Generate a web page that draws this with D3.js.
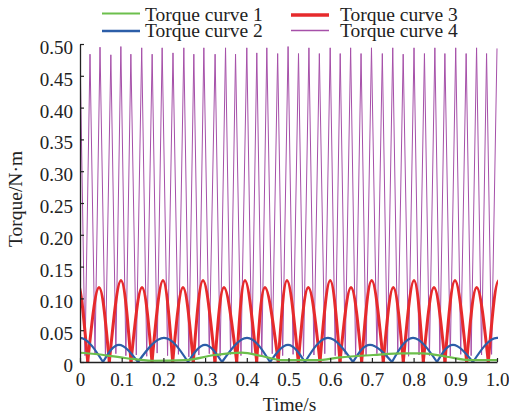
<!DOCTYPE html>
<html>
<head>
<meta charset="utf-8">
<script src="https://cdn.jsdelivr.net/npm/d3@7"></script>
<style>
  html, body { margin: 0; padding: 0; background: #fff; }
  svg { display: block; }
  svg text { font-family: "Liberation Serif", "Times New Roman", serif !important; }
</style>
</head>
<body>
<svg id="chart" width="509" height="418"></svg>
<script>
// ---- data ----
const timeTicks = [0, 0.1, 0.2, 0.3, 0.4, 0.5, 0.6, 0.7, 0.8, 0.9, 1.0];
const timeTickLabels = ["0", "0.1", "0.2", "0.3", "0.4", "0.5", "0.6", "0.7", "0.8", "0.9", "1.0"];
const torqueTicks = [0, 0.05, 0.10, 0.15, 0.20, 0.25, 0.30, 0.35, 0.40, 0.45, 0.50];
const torqueTickLabels = ["0", "0.05", "0.10", "0.15", "0.20", "0.25", "0.30", "0.35", "0.40", "0.45", "0.50"];
const seriesNames = ["Torque curve 1", "Torque curve 2", "Torque curve 3", "Torque curve 4"];
const seriesColors = ["#6cbf4c", "#2c5ea8", "#e62a2c", "#a650a9"];

// Torque curve 1 (slow ripple)
const curve1Time   = [0, 0.036, 0.108, 0.173, 0.252, 0.324, 0.388, 0.436, 0.484, 0.568, 0.624, 0.703, 0.775, 0.823, 0.880, 0.935, 1.0];
const curve1Torque = [0.0146, 0.0126, 0.0063, 0.002, 0.003, 0.011, 0.0146, 0.0094, 0.003, 0.003, 0.0074, 0.011, 0.0137, 0.0137, 0.0083, 0.003, 0.003];

// Torque curve 2 (zeros and crests of each lobe)
const curve2Time   = [-0.055, 0, 0.0552, 0.0935, 0.1391, 0.2014, 0.2590, 0.2998, 0.3405, 0.4005, 0.4556, 0.4988, 0.5396, 0.5947, 0.6547, 0.6954, 0.7482, 0.7986, 0.8561, 0.8945, 0.9424, 1.0, 1.057];
const curve2Torque = [0, 0.038, 0, 0.027, 0, 0.038, 0, 0.027, 0, 0.038, 0, 0.027, 0, 0.038, 0, 0.027, 0, 0.038, 0, 0.027, 0, 0.038, 0];

// Torque curve 3 (zeros and crests of each lobe)
const curve3Time   = [-0.0325, -0.007, 0.0185, 0.0456, 0.0703, 0.0983, 0.1223, 0.1487, 0.1727, 0.1990, 0.2223, 0.2470, 0.2717, 0.2950, 0.3237, 0.3453, 0.3758, 0.3957, 0.4237, 0.4436, 0.4755, 0.4964, 0.5235, 0.5475, 0.5755, 0.6000, 0.6235, 0.6499, 0.6755, 0.6995, 0.7273, 0.7513, 0.7753, 0.8010, 0.8233, 0.8489, 0.8753, 0.8993, 0.9273, 0.9513, 0.9791, 1.004, 1.029];
const curve3Torque = [0, 0.128, 0, 0.117, 0, 0.128, 0, 0.117, 0, 0.128, 0, 0.117, 0, 0.128, 0, 0.117, 0, 0.128, 0, 0.117, 0, 0.128, 0, 0.117, 0, 0.128, 0, 0.117, 0, 0.128, 0, 0.117, 0, 0.128, 0, 0.117, 0, 0.128, 0, 0.117, 0, 0.128, 0];

// Torque curve 4 (peaks and troughs)
const curve4Time = [0.000, 0.012, 0.024, 0.036, 0.048, 0.061, 0.074, 0.086, 0.098, 0.110,
                    0.122, 0.135, 0.148, 0.160, 0.173, 0.185, 0.197, 0.210, 0.223, 0.236,
                    0.249, 0.261, 0.273, 0.285, 0.297, 0.310, 0.324, 0.336, 0.349, 0.361,
                    0.373, 0.386, 0.400, 0.412, 0.424, 0.436, 0.448, 0.461, 0.474, 0.486,
                    0.499, 0.511, 0.524, 0.536, 0.549, 0.561, 0.574, 0.587, 0.600, 0.612,
                    0.624, 0.636, 0.649, 0.661, 0.674, 0.686, 0.699, 0.712, 0.725, 0.737,
                    0.750, 0.762, 0.775, 0.788, 0.801, 0.813, 0.826, 0.838, 0.851, 0.863,
                    0.875, 0.888, 0.901, 0.913, 0.926, 0.938, 0.951, 0.963, 0.975, 0.987, 1.000];
const curve4Torque = [0.490, 0.010, 0.484, 0.012, 0.495, 0.008, 0.483, 0.013, 0.496, 0.010,
                      0.484, 0.011, 0.494, 0.009, 0.484, 0.014, 0.494, 0.010, 0.486, 0.012,
                      0.494, 0.008, 0.484, 0.011, 0.494, 0.013, 0.484, 0.009, 0.494, 0.012,
                      0.484, 0.010, 0.494, 0.011, 0.486, 0.008, 0.494, 0.013, 0.485, 0.010,
                      0.496, 0.012, 0.485, 0.009, 0.494, 0.011, 0.485, 0.013, 0.494, 0.010,
                      0.485, 0.012, 0.494, 0.008, 0.485, 0.011, 0.494, 0.013, 0.485, 0.010,
                      0.494, 0.012, 0.484, 0.009, 0.494, 0.011, 0.485, 0.010, 0.494, 0.013,
                      0.485, 0.009, 0.494, 0.012, 0.485, 0.010, 0.494, 0.011, 0.485, 0.012, 0.493];

// ---- layout ----
const svg = d3.select("#chart");
const x = d3.scaleLinear().domain([0, 1]).range([80, 497]);
const y = d3.scaleLinear().domain([0, 0.5]).range([362, 44]);
const serif = "'Liberation Serif', 'Times New Roman', serif";

svg.append("rect").attr("width", 509).attr("height", 418).attr("fill", "#fff");

svg.append("defs").append("clipPath").attr("id", "plot-clip")
  .append("rect").attr("x", x(0)).attr("y", 0)
  .attr("width", x(1) - x(0) + 1).attr("height", y(0) + 1);

const plot = svg.append("g").attr("clip-path", "url(#plot-clip)");

const zip = (ts, vs) => ts.map((t, i) => [t, vs[i]]);
const line = d3.line().x(d => x(d[0])).y(d => y(d[1]));

// split a series at its zero points into separate smooth lobes
function lobes(ts, vs) {
  const pts = zip(ts, vs);
  const out = [];
  let cur = [pts[0]];
  for (let i = 1; i < pts.length; i++) {
    cur.push(pts[i]);
    if (pts[i][1] === 0) { out.push(cur); cur = [pts[i]]; }
  }
  if (cur.length > 1) out.push(cur);
  return out;
}
const lobeLine = d3.line().x(d => x(d[0])).y(d => y(d[1])).curve(d3.curveNatural);

// curve 4 (back)
plot.append("path")
  .attr("d", line(zip(curve4Time, curve4Torque)))
  .attr("fill", "none").attr("stroke", seriesColors[3])
  .attr("stroke-width", 1).attr("stroke-linejoin", "miter");

// curve 3
plot.append("g").selectAll("path")
  .data(lobes(curve3Time, curve3Torque)).join("path")
  .attr("d", lobeLine)
  .attr("fill", "none").attr("stroke", seriesColors[2])
  .attr("stroke-width", 3).attr("stroke-linejoin", "round");

// curve 2
plot.append("g").selectAll("path")
  .data(lobes(curve2Time, curve2Torque)).join("path")
  .attr("d", lobeLine)
  .attr("fill", "none").attr("stroke", seriesColors[1])
  .attr("stroke-width", 2.2).attr("stroke-linejoin", "round");

// curve 1
plot.append("path")
  .attr("d", d3.line().x(d => x(d[0])).y(d => y(d[1])).curve(d3.curveMonotoneX)(zip(curve1Time, curve1Torque)))
  .attr("fill", "none").attr("stroke", seriesColors[0])
  .attr("stroke-width", 2.2);

// ---- axes ----
const xAxis = d3.axisBottom(x).tickValues(timeTicks)
  .tickFormat((d, i) => timeTickLabels[i])
  .tickSizeInner(-4).tickSizeOuter(0).tickPadding(10.5);
const yAxis = d3.axisLeft(y).tickValues(torqueTicks)
  .tickFormat((d, i) => torqueTickLabels[i])
  .tickSizeInner(-4).tickSizeOuter(0).tickPadding(7);

const gx = svg.append("g").attr("transform", `translate(0,${y(0)})`).call(xAxis);
const gy = svg.append("g").attr("transform", `translate(${x(0)},0)`).call(yAxis);
[gx, gy].forEach(g => {
  g.attr("font-family", serif);
  g.select(".domain").attr("stroke", "#222").attr("stroke-width", 1.3);
  g.selectAll(".tick line").attr("stroke", "#222").attr("stroke-width", 1.2);
  g.selectAll(".tick text").attr("fill", "#222").attr("font-size", 19);
});
gy.selectAll(".tick text").attr("dy", "0.5em");

svg.append("text")
  .attr("transform", `translate(22,${(y(0) + y(0.5)) / 2 - 4}) rotate(-90)`)
  .attr("text-anchor", "middle").attr("font-size", 19.5).attr("fill", "#222")
  .text("Torque/N\u00b7m");

svg.append("text")
  .attr("x", (x(0) + x(1)) / 2 + 1).attr("y", 411)
  .attr("text-anchor", "middle").attr("font-size", 19.5).attr("fill", "#222")
  .text("Time/s");

// ---- legend ----
const legendItems = [
  { lx: 102, ly: 13.5, tx: 145, ty: 20.5, w: 2.2 },
  { lx: 102, ly: 31,   tx: 145, ty: 36.5, w: 2.4 },
  { lx: 291, ly: 15,   tx: 340, ty: 20.5, w: 3.6 },
  { lx: 291, ly: 30.5, tx: 340, ty: 36.5, w: 1.3 }
];
const legend = svg.append("g");
legendItems.forEach((it, i) => {
  legend.append("line")
    .attr("x1", it.lx).attr("x2", it.lx + 38)
    .attr("y1", it.ly).attr("y2", it.ly)
    .attr("stroke", seriesColors[i]).attr("stroke-width", it.w);
  legend.append("text")
    .attr("x", it.tx).attr("y", it.ty)
    .attr("font-size", 19.5).attr("fill", "#222")
    .text(seriesNames[i]);
});
</script>
</body>
</html>
